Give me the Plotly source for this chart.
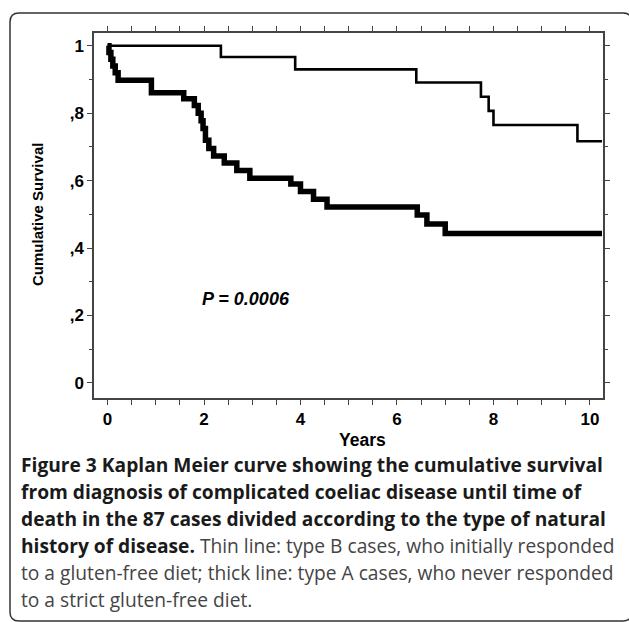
import plotly.graph_objects as go

# ---- data ----
years_type_b = [0, 2.35, 3.89, 6.40, 7.74, 7.90, 8.00, 9.74, 10.25]
surv_type_b = [1.0, 0.967, 0.930, 0.891, 0.849, 0.807, 0.765, 0.717, 0.717]

years_type_a = [0, 0.03, 0.07, 0.11, 0.16, 0.22, 0.91, 1.58, 1.80, 1.88, 1.94, 1.98,
                2.03, 2.10, 2.20, 2.42, 2.68, 2.95, 3.80, 4.00, 4.27, 4.55, 6.42,
                6.62, 7.00, 10.25]
surv_type_a = [1.0, 0.98, 0.96, 0.94, 0.92, 0.898, 0.861, 0.843, 0.823, 0.80, 0.778,
               0.755, 0.72, 0.695, 0.673, 0.652, 0.63, 0.607, 0.59, 0.568, 0.545,
               0.522, 0.498, 0.471, 0.443, 0.443]

x_tickvals = [0, 2, 4, 6, 8, 10]
x_ticktext = ["0", "2", "4", "6", "8", "10"]
y_tickvals = [0, 0.2, 0.4, 0.6, 0.8, 1.0]
y_ticktext = ["0", ",2", ",4", ",6", ",8", "1"]

p_value_text = "P = 0.0006"
x_title = "Years"
y_title = "Cumulative Survival"
BOLD = "<span style='color:#1a1a1a'><b>{}</b></span>"
caption_lines = [
    BOLD.format("Figure 3 Kaplan Meier curve showing the cumulative survival"),
    BOLD.format("from diagnosis of complicated coeliac disease until time of"),
    BOLD.format("death in the 87 cases divided according to the type of natural"),
    BOLD.format("history of disease.") + " Thin line: type B cases, who initially responded",
    "to a gluten-free diet; thick line: type A cases, who never responded",
    "to a strict gluten-free diet.",
]

# ---- layout geometry (pixels) ----
W, H = 629, 622
PL, PR, PT, PB = 94, 603, 33, 398
pw, ph = PR - PL, PB - PT


def px(x):
    return (x - PL) / pw


def py(y):
    return (PB - y) / ph


fig = go.Figure()
fig.add_trace(go.Scatter(x=years_type_b, y=surv_type_b, mode="lines",
                         line=dict(shape="hv", color="black", width=2.6),
                         showlegend=False, hoverinfo="skip"))
fig.add_trace(go.Scatter(x=years_type_a, y=surv_type_a, mode="lines",
                         line=dict(shape="hv", color="black", width=5.5),
                         showlegend=False, hoverinfo="skip"))

tickfont = dict(family="Liberation Sans, Arial, sans-serif", size=17, color="black", weight="bold")
axcol = "#444444"

fig.update_xaxes(range=[-0.28, 10.27], showline=True, linecolor=axcol, linewidth=1.5,
                 mirror="allticks", ticks="outside", ticklen=5, tickwidth=1.3, tickcolor=axcol,
                 tickvals=x_tickvals, ticktext=x_ticktext, tickfont=tickfont,
                 showgrid=False, zeroline=False,
                 minor=dict(dtick=0.5, tick0=0, ticks="outside", ticklen=5, tickwidth=1.3,
                            tickcolor=axcol, showgrid=False))
fig.update_yaxes(range=[-0.045, 1.038], showline=True, linecolor=axcol, linewidth=1.5,
                 mirror="allticks", ticks="outside", ticklen=5, tickwidth=1.3, tickcolor=axcol,
                 tickvals=y_tickvals, ticktext=y_ticktext, tickfont=tickfont,
                 showgrid=False, zeroline=False,
                 minor=dict(dtick=0.1, tick0=0, ticks="outside", ticklen=3, tickwidth=1.3,
                            tickcolor=axcol, showgrid=False))

annotations = [
    dict(text="<b><i>" + p_value_text + "</i></b>", x=2.87, y=0.25, xref="x", yref="y",
         showarrow=False, font=dict(family="Liberation Sans, Arial", size=18, color="black")),
    dict(text="<b>" + x_title + "</b>", x=px(362), y=py(440), xref="paper", yref="paper",
         xanchor="center", yanchor="middle", showarrow=False,
         font=dict(family="Liberation Sans, Arial", size=17.5, color="black")),
    dict(text="<b>" + y_title + "</b>", x=px(38), y=py(215), xref="paper", yref="paper",
         xanchor="center", yanchor="middle", textangle=-90, showarrow=False,
         font=dict(family="Liberation Sans, Arial", size=15, color="black")),
]
line_y0 = 464
for i, t in enumerate(caption_lines):
    annotations.append(dict(text=t, x=px(19), y=py(line_y0 + 27 * i), xref="paper", yref="paper",
                            xanchor="left", yanchor="middle", showarrow=False,
                            font=dict(family="Open Sans, sans-serif", size=19.2, color="#444444")))

# rounded border box (right edge sits just past the picture's edge, as in the reference)
bx0, by0, bx1, by1, r = 10, 13, 632, 621, 9
path = (f"M {px(bx0)},{py(by0 + r)} Q {px(bx0)},{py(by0)} {px(bx0 + r)},{py(by0)} "
        f"L {px(bx1 - r)},{py(by0)} Q {px(bx1)},{py(by0)} {px(bx1)},{py(by0 + r)} "
        f"L {px(bx1)},{py(by1 - r)} Q {px(bx1)},{py(by1)} {px(bx1 - r)},{py(by1)} "
        f"L {px(bx0 + r)},{py(by1)} Q {px(bx0)},{py(by1)} {px(bx0)},{py(by1 - r)} Z")

fig.update_layout(width=W, height=H, margin=dict(l=PL, r=W - PR, t=PT, b=H - PB),
                  paper_bgcolor="white", plot_bgcolor="white", annotations=annotations,
                  shapes=[dict(type="path", path=path, xref="paper", yref="paper",
                               line=dict(color="#333333", width=1.5), layer="below")])

fig.write_html("out.html", config={"displayModeBar": False},
               post_script="document.body.style.margin='0';document.body.style.overflow='hidden';")
